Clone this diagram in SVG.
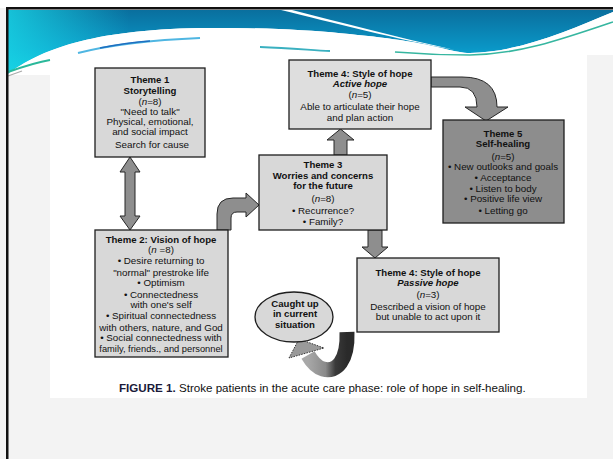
<svg xmlns="http://www.w3.org/2000/svg" width="613" height="459" viewBox="0 0 613 459">
<defs>
<linearGradient id="hdr" x1="0" y1="0" x2="0" y2="1">
<stop offset="0" stop-color="#0a6f9e"/>
<stop offset="0.6" stop-color="#0a96c6"/>
<stop offset="1" stop-color="#10c6dc"/>
</linearGradient>
<linearGradient id="hdrL" x1="0" y1="0" x2="1" y2="0">
<stop offset="0" stop-color="#19d6e6" stop-opacity="0.8"/>
<stop offset="0.2" stop-color="#19d6e6" stop-opacity="0"/>
</linearGradient>
<linearGradient id="loop" x1="0" y1="0" x2="1" y2="0">
<stop offset="0" stop-color="#a8a8a8"/>
<stop offset="0.45" stop-color="#8a8a8a"/>
<stop offset="0.7" stop-color="#3a3a3a"/>
<stop offset="1" stop-color="#2a2a2a"/>
</linearGradient>
<style>
.box{fill:#d8d8d8;stroke:#1e1e1e;stroke-width:1.3}
.dark{fill:#8d8d8d;stroke:#1e1e1e;stroke-width:1.3}
.arr{fill:#8e8e8e;stroke:#262626;stroke-width:1}
text{font-family:"Liberation Sans",Arial,sans-serif;font-size:9.8px;fill:#111;text-anchor:middle}
.b{font-weight:bold;font-size:9.6px}
.bi{font-weight:bold;font-style:italic;font-size:9.6px}
.i{font-style:italic}
.cap{font-size:11.6px;text-anchor:start}
</style>
</defs>
<rect x="0" y="0" width="613" height="459" fill="#f3f3f3"/>
<rect x="0" y="0" width="613" height="8" fill="#ffffff"/>
<!-- header -->
<path d="M8,10 L613,10 L613,12 C570,30 520,52 470,53 C455,53 440,46 400,40 C360,35 300,27 200,28 C90,30 40,50 8,74 Z" fill="url(#hdr)"/>
<path d="M8,10 L613,10 L613,12 C570,30 520,52 470,53 C455,53 440,46 400,40 C360,35 300,27 200,28 C90,30 40,50 8,74 Z" fill="url(#hdrL)"/>
<path d="M8,74 C40,50 90,30 200,28 C300,27 360,35 400,40 C440,46 455,53 470,53 C520,52 570,30 613,12 L613,55 L587,55 L587,398 L50,398 L50,75 L8,75 Z" fill="#ffffff"/>
<path d="M281,10 L292,10 C340,22 400,38 455,50 C400,40 330,22 281,10 Z" fill="#ffffff"/>
<path d="M78,53 C110,45 150,40 200,38" fill="none" stroke="#4fb6e2" stroke-width="2"/>
<path d="M100,48 C120,44 135,42 150,41" fill="none" stroke="#1f6fc0" stroke-width="1.5"/>
<path d="M260,47 C290,48 310,50 330,51" fill="none" stroke="#3ab0c0" stroke-width="1.8"/>
<path d="M395,52 C420,54 440,55 470,55 C520,54 560,40 613,22" fill="none" stroke="#36b6a0" stroke-width="1.6"/>
<path d="M8,72 C25,66 38,62 50,60" fill="none" stroke="#2ab89a" stroke-width="2"/>
<path d="M8,76 L22,71" fill="none" stroke="#aaaaaa" stroke-width="1.2"/>
<rect x="6" y="7" width="607" height="2.5" fill="#111111"/>
<rect x="6" y="7" width="2.5" height="452" fill="#111111"/>

<!-- connectors -->
<g id="connectors">
<path class="arr" d="M125,172 L120,172 L130,157 L140,172 L135,172 L135,216 L140,216 L130,230 L120,216 L125,216 Z"/>
<path class="arr" d="M217,230 L217,214 Q217,198 233,198 L246,198 L246,193 L259,205 L246,217 L246,212 L237,212 Q231,212 231,218 L231,230 Z"/>
<path class="arr" d="M334,155 L334,140 L327,140 L340.5,129 L354,140 L347,140 L347,155 Z"/>
<path class="arr" d="M431,77 L462,77 Q497,77 497,107 L508,107 L486,121 L465,107 L477,107 Q477,87 460,87 L431,87 Z"/>
<path class="arr" d="M368,230 L368,247 L362,247 L375,258 L388,247 L382,247 L382,230 Z"/>
<path d="M347,332 C348,360 337,373 323,369 C316,367 312,362 308,355" fill="none" stroke="url(#loop)" stroke-width="15"/>
<path d="M289,358 L299,339 L324,348 Z" fill="#9a9a9a" stroke="#333" stroke-width="1" stroke-dasharray="1.5,1.2"/>
</g>

<g id="theme1">
<rect class="box" x="95" y="68" width="110" height="89"/>
<text x="150" y="83" class="b">Theme 1</text>
<text x="150" y="94" class="b">Storytelling</text>
<text x="150" y="105">(<tspan class="i">n</tspan>=8)</text>
<text x="150" y="115">"Need to talk"</text>
<text x="150" y="125">Physical, emotional,</text>
<text x="150" y="135">and social impact</text>
<text x="152" y="148">Search for cause</text>
</g>

<g id="theme4active">
<rect class="box" x="289" y="60" width="142" height="69" style="fill:#dedede"/>
<text x="360" y="77" class="b">Theme 4: Style of hope</text>
<text x="360" y="87" class="bi">Active hope</text>
<text x="360" y="98">(<tspan class="i">n</tspan>=5)</text>
<text x="360" y="110">Able to articulate their hope</text>
<text x="360" y="121">and plan action</text>
</g>

<g id="theme5">
<rect class="dark" x="443" y="120" width="121" height="103"/>
<text x="503" y="137" class="b">Theme 5</text>
<text x="503" y="147" class="b">Self-healing</text>
<text x="503" y="160">(<tspan class="i">n</tspan>=5)</text>
<text x="503" y="170">• New outlooks and goals</text>
<text x="503" y="181">• Acceptance</text>
<text x="503" y="192">• Listen to body</text>
<text x="503" y="202">• Positive life view</text>
<text x="503" y="214">• Letting go</text>
</g>

<g id="theme3">
<rect class="box" x="259" y="155" width="128" height="75"/>
<text x="323" y="168" class="b">Theme 3</text>
<text x="323" y="179" class="b">Worries and concerns</text>
<text x="323" y="189" class="b">for the future</text>
<text x="323" y="202">(<tspan class="i">n</tspan>=8)</text>
<text x="323" y="214">• Recurrence?</text>
<text x="323" y="225">• Family?</text>
</g>

<g id="theme2">
<rect class="box" x="95" y="230" width="133" height="127"/>
<text x="161" y="243" class="b">Theme 2: Vision of hope</text>
<text x="161" y="253">(<tspan class="i">n</tspan> =8)</text>
<text x="161" y="264">• Desire returning to</text>
<text x="161" y="276">"normal" prestroke life</text>
<text x="161" y="286">• Optimism</text>
<text x="161" y="298">• Connectedness</text>
<text x="161" y="308">with one's self</text>
<text x="161" y="319">• Spiritual connectedness</text>
<text x="161" y="331">with others, nature, and God</text>
<text x="161" y="341">• Social connectedness with</text>
<text x="161" y="352" style="font-size:9.3px">family, friends., and personnel</text>
</g>

<g id="theme4passive">
<rect class="box" x="357" y="258" width="142" height="74"/>
<text x="428" y="276" class="b">Theme 4: Style of hope</text>
<text x="428" y="286" class="bi">Passive hope</text>
<text x="428" y="298">(<tspan class="i">n</tspan>=3)</text>
<text x="428" y="310">Described a vision of hope</text>
<text x="428" y="320">but unable to act upon it</text>
</g>

<g id="caught">
<ellipse cx="294" cy="317" rx="39" ry="25" fill="#d8d8d8" stroke="#1e1e1e" stroke-width="1.3"/>
<text x="295" y="307" class="b">Caught up</text>
<text x="295" y="317" class="b">in current</text>
<text x="295" y="328" class="b">situation</text>
</g>

<text x="119" y="392" class="cap"><tspan font-weight="bold" fill="#1a1a3a">FIGURE 1.</tspan> Stroke patients in the acute care phase: role of hope in self-healing.</text>
</svg>
